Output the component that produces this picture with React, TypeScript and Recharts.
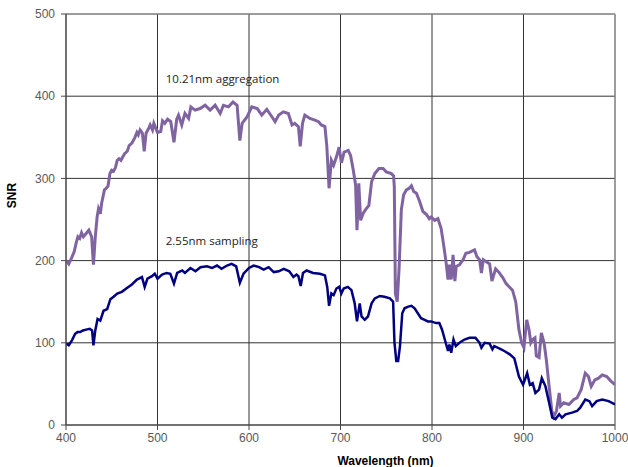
import React from "react";
import {
  LineChart,
  Line,
  XAxis,
  YAxis,
  CartesianGrid,
  ReferenceLine,
  ReferenceDot,
} from "recharts";

// 10.21nm aggregation (purple)
const aggWavelength = [
  400, 403, 406, 409, 411, 413, 415, 417, 419, 422, 425, 428, 430, 432, 434,
  435.5, 437.5, 439, 442, 444, 446, 448, 450, 452, 454, 456, 458, 460, 464, 467,
  469, 472, 475, 477.5, 479, 481, 483.5, 485.5, 487.5, 490, 492, 494.5, 496, 500,
  503.5, 505.5, 508, 511, 514.5, 518, 521, 523, 526.5, 530, 534, 536.5, 541,
  546.5, 552, 557.5, 563, 568.5, 572, 577.5, 582.5, 587, 590, 592.5, 598, 603,
  609, 614, 619.5, 625, 628.5, 632.5, 637.5, 643, 647, 650, 654, 656, 658.5, 661,
  666.5, 672, 676, 679, 683, 685, 687.5, 690, 692.5, 695.5, 698.5, 701, 704,
  708.5, 711, 714, 716.5, 718, 720, 722, 725, 728, 731, 734, 737.5, 742, 746.5,
  750, 755.5, 758, 758.8, 760, 762, 764, 766.5, 769, 772, 775, 777.5, 780, 783,
  786.5, 790, 794, 797, 799, 803, 806.5, 810, 813, 815.5, 817.5, 819, 821, 823,
  825, 826.5, 830, 834, 837, 841, 846.5, 849, 852, 854, 856, 859, 863, 865.5,
  869.5, 873, 877.5, 881, 888, 891.5, 895, 898, 900.5, 903.5, 906, 908, 910,
  912.5, 914, 917, 919.5, 922.5, 925, 928, 931, 933, 936, 939, 940.5, 944, 949.5,
  955, 958.5, 963, 967.5, 971, 974, 978, 982, 986, 991, 995, 1000,
];
const aggSnr = [
  200, 196, 203, 211, 221, 229, 227, 234, 229, 233, 237, 229, 195, 229, 253,
  263, 257, 270, 286, 288, 291, 306, 310, 309, 313, 322, 324, 322, 330, 333,
  340, 343, 349, 356, 353, 359, 355, 333, 355, 360, 365, 359, 367, 356,
  357, 370, 367, 372, 369, 344, 372, 377, 365, 379, 373, 387, 383,
  385, 389, 383, 389, 379, 389, 387, 393, 389, 346, 367, 375, 387,
  385, 377, 384, 375, 369, 377, 381, 379, 365, 367, 363, 339, 367, 377,
  373, 371, 369, 365, 363, 340, 288, 322, 316, 326, 338, 319, 332,
  334, 328, 310, 292, 237, 294, 249, 258, 263, 267, 296, 306, 312, 312,
  308, 306, 303, 290, 160, 150, 190, 262, 280, 286, 288, 291, 284, 282,
  272, 260, 256, 251, 253, 249, 251, 239, 217, 197, 177, 195, 177, 207,
  175, 193, 195, 201, 209, 210, 213, 205, 201, 185, 201, 199, 196, 175,
  190, 186, 179, 172, 164, 150, 116, 100, 94, 128, 116, 100, 104,
  106, 84, 82, 112, 100, 79, 47, 17, 10, 17, 39, 23, 27, 25,
  31, 33, 43, 63, 59, 47, 55, 57, 61, 59, 54, 49,
];

// 2.55nm sampling (navy)
const sampWavelength = [
  400, 403, 406.5, 410, 412.5, 415.5, 418.5, 422, 426, 428.5, 430, 432, 434.5,
  437.5, 441, 445, 448.5, 452, 456, 461, 467, 472, 477.5, 483, 486, 489, 494,
  497, 500, 505, 510, 514, 518, 521.5, 527, 530, 536, 541.5, 547, 554, 559.5,
  565, 570, 576, 581, 586, 590, 594, 600, 605, 611, 616, 621.5, 627, 632.5, 638,
  644, 648.5, 652, 654, 656.5, 659, 663, 670, 677.5, 683, 685.5, 687.5, 690,
  692.5, 695.5, 698.5, 701, 703.5, 708, 712, 715.5, 718, 721, 723, 726.5, 730,
  734, 737.5, 743, 748, 754, 757.5, 759, 761, 763, 765, 767.5, 770, 774, 777.5,
  781, 784.5, 788, 792, 795.5, 799, 804.5, 808, 811, 814, 817.5, 819, 821,
  823.5, 826, 830, 835.5, 841, 847.5, 852, 854, 857.5, 863, 866, 868, 874, 879,
  885, 890, 895, 899.5, 904, 907, 910, 913, 917, 920, 924, 928, 931.5, 935, 939,
  942, 946, 953, 958.5, 962, 967.5, 972, 975, 980, 986, 993, 1000,
];
const sampSnr = [
  99, 97, 103, 111, 113, 113, 115, 116, 117, 115, 97, 115, 129,
  127, 139, 141, 153, 156, 160, 162, 167, 171, 177, 180, 168, 178, 181,
  184, 178, 183, 185, 184, 172, 185, 188, 185, 191, 187, 192, 193, 191,
  194, 190, 194, 196, 193, 173, 184, 191, 194, 192, 189, 192, 186, 187, 190,
  187, 180, 183, 181, 169, 185, 188, 185, 184, 182, 168, 145, 160,
  158, 166, 168, 160, 166, 168, 164, 148, 126, 148, 132, 128, 132,
  148, 154, 157, 156, 154, 150, 100, 78, 78, 96, 136, 142, 144, 145,
  142, 136, 130, 128, 126, 126, 124, 124, 116, 104, 90, 98, 88,
  104, 96, 100, 104, 106, 106, 100, 94, 100, 99, 92, 96, 93, 90,
  86, 81, 59, 49, 63, 49, 51, 39, 43, 57, 47, 27, 9, 7, 13,
  9, 13, 15, 17, 21, 31, 29, 23, 29, 31, 29, 25,
];

const xTicks = [400, 500, 600, 700, 800, 900, 1000];
const yTicks = [0, 100, 200, 300, 400, 500];

const aggData = aggWavelength.map((nm, i) => ({ nm, snr: aggSnr[i] }));
const sampData = sampWavelength.map((nm, i) => ({ nm, snr: sampSnr[i] }));

const tickStyle = { fontSize: 12, fill: "#595959", fontFamily: "Liberation Sans, Arial, sans-serif" };
const noteFont = "Open Sans, sans-serif";

const App = () => {
  return (
    <div style={{ position: "absolute", left: 0, top: 0, background: "#fff" }}>
      <LineChart
        width={628}
        height={467}
        margin={{ top: 14, right: 13, left: 0, bottom: 0 }}
      >
        <CartesianGrid stroke="#333" strokeWidth={1} />
        <XAxis
          dataKey="nm"
          type="number"
          domain={[400, 1000]}
          ticks={xTicks}
          height={42}
          tickSize={5}
          tickMargin={3}
          tick={tickStyle}
          stroke="#4a4a4a"
          allowDataOverflow
          label={{
            value: "Wavelength (nm)",
            position: "insideBottom",
            offset: 0,
            dx: 45,
            dy: -2,
            fontSize: 12,
            fontWeight: "bold",
            fill: "#000",
            fontFamily: "Liberation Sans, Arial, sans-serif",
          }}
        />
        <YAxis
          type="number"
          domain={[0, 500]}
          ticks={yTicks}
          width={66}
          tickSize={5}
          tickMargin={6}
          tick={tickStyle}
          stroke="#4a4a4a"
          label={{
            value: "SNR",
            angle: -90,
            position: "insideLeft",
            offset: 12,
            dy: -24,
            fontSize: 12,
            fontWeight: "bold",
            fill: "#000",
            textAnchor: "middle",
            fontFamily: "Liberation Sans, Arial, sans-serif",
          }}
        />
        <ReferenceLine y={500} stroke="#a0a0a0" />
        <ReferenceLine x={1000} stroke="#a0a0a0" />
        <Line
          data={aggData}
          dataKey="snr"
          type="linear"
          stroke="#8064a2"
          strokeWidth={3}
          dot={false}
          isAnimationActive={false}
        />
        <Line
          data={sampData}
          dataKey="snr"
          type="linear"
          stroke="#000080"
          strokeWidth={2.5}
          dot={false}
          isAnimationActive={false}
        />
        <ReferenceDot
          x={509}
          y={421}
          r={0}
          fill="none"
          stroke="none"
          label={{
            value: "10.21nm aggregation",
            position: "right",
            offset: 0,
            fontSize: 11.5,
            fill: "#222",
            fontFamily: noteFont,
          }}
        />
        <ReferenceDot
          x={509}
          y={224}
          r={0}
          fill="none"
          stroke="none"
          label={{
            value: "2.55nm sampling",
            position: "right",
            offset: 0,
            fontSize: 11.5,
            fill: "#222",
            fontFamily: noteFont,
          }}
        />
      </LineChart>
    </div>
  );
};

export default App;
